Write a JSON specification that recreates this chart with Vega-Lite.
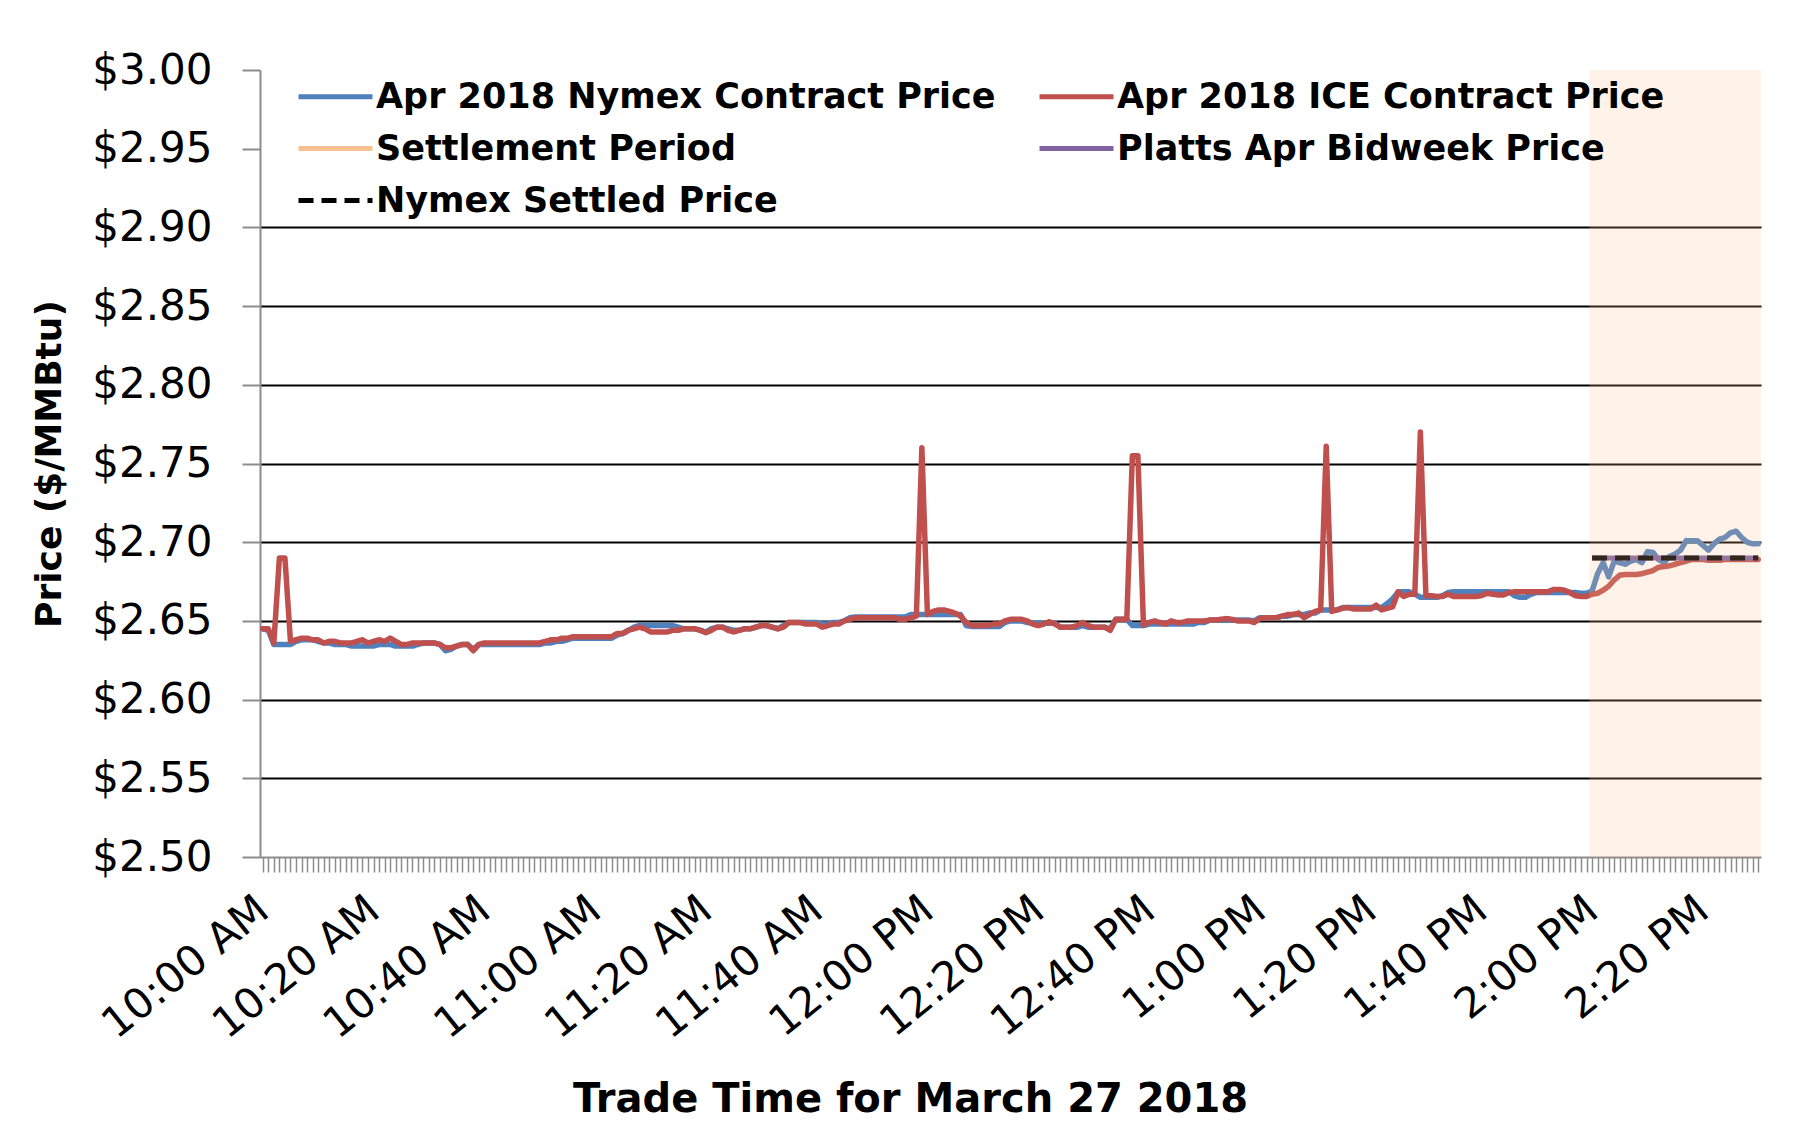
{
"$schema":"https://vega.github.io/schema/vega-lite/v6.json",
"width":1501,"height":787,
"autosize":{"type":"none"},
"padding":{"left":260,"top":70,"right":53,"bottom":290},
"background":"white",
"config":{"font":"DejaVu Sans","view":{"stroke":null},"axis":{"labelFont":"DejaVu Sans","titleFont":"DejaVu Sans"},"legend":{"labelFont":"DejaVu Sans"}},
"layer":[
{
"data":{"values":[
{"t":"10:00","N":2.645,"I":2.645},{"t":"10:01","N":2.644,"I":2.645},{"t":"10:02","N":2.635,"I":2.636},{"t":"10:03","N":2.635,"I":2.69},{"t":"10:04","N":2.635,"I":2.69},
{"t":"10:05","N":2.635,"I":2.637},{"t":"10:06","N":2.637,"I":2.638},{"t":"10:07","N":2.638,"I":2.639},{"t":"10:08","N":2.638,"I":2.639},{"t":"10:09","N":2.638,"I":2.638},
{"t":"10:10","N":2.637,"I":2.638},{"t":"10:11","N":2.636,"I":2.636},{"t":"10:12","N":2.636,"I":2.637},{"t":"10:13","N":2.635,"I":2.637},{"t":"10:14","N":2.635,"I":2.636},
{"t":"10:15","N":2.635,"I":2.636},{"t":"10:16","N":2.634,"I":2.636},{"t":"10:17","N":2.634,"I":2.637},{"t":"10:18","N":2.634,"I":2.638},{"t":"10:19","N":2.634,"I":2.636},
{"t":"10:20","N":2.634,"I":2.637},{"t":"10:21","N":2.635,"I":2.638},{"t":"10:22","N":2.635,"I":2.637},{"t":"10:23","N":2.635,"I":2.639},{"t":"10:24","N":2.634,"I":2.637},
{"t":"10:25","N":2.634,"I":2.635},{"t":"10:26","N":2.634,"I":2.635},{"t":"10:27","N":2.634,"I":2.636},{"t":"10:28","N":2.635,"I":2.636},{"t":"10:29","N":2.636,"I":2.636},
{"t":"10:30","N":2.636,"I":2.636},{"t":"10:31","N":2.636,"I":2.636},{"t":"10:32","N":2.635,"I":2.635},{"t":"10:33","N":2.631,"I":2.633},{"t":"10:34","N":2.632,"I":2.633},
{"t":"10:35","N":2.634,"I":2.634},{"t":"10:36","N":2.635,"I":2.635},{"t":"10:37","N":2.635,"I":2.635},{"t":"10:38","N":2.632,"I":2.631},{"t":"10:39","N":2.635,"I":2.635},
{"t":"10:40","N":2.635,"I":2.636},{"t":"10:41","N":2.635,"I":2.636},{"t":"10:42","N":2.635,"I":2.636},{"t":"10:43","N":2.635,"I":2.636},{"t":"10:44","N":2.635,"I":2.636},
{"t":"10:45","N":2.635,"I":2.636},{"t":"10:46","N":2.635,"I":2.636},{"t":"10:47","N":2.635,"I":2.636},{"t":"10:48","N":2.635,"I":2.636},{"t":"10:49","N":2.635,"I":2.636},
{"t":"10:50","N":2.635,"I":2.636},{"t":"10:51","N":2.636,"I":2.637},{"t":"10:52","N":2.636,"I":2.638},{"t":"10:53","N":2.637,"I":2.638},{"t":"10:54","N":2.637,"I":2.639},
{"t":"10:55","N":2.638,"I":2.639},{"t":"10:56","N":2.639,"I":2.64},{"t":"10:57","N":2.639,"I":2.64},{"t":"10:58","N":2.639,"I":2.64},{"t":"10:59","N":2.639,"I":2.64},
{"t":"11:00","N":2.639,"I":2.64},{"t":"11:01","N":2.639,"I":2.64},{"t":"11:02","N":2.639,"I":2.64},{"t":"11:03","N":2.639,"I":2.64},{"t":"11:04","N":2.641,"I":2.642},
{"t":"11:05","N":2.642,"I":2.642},{"t":"11:06","N":2.644,"I":2.644},{"t":"11:07","N":2.646,"I":2.645},{"t":"11:08","N":2.647,"I":2.646},{"t":"11:09","N":2.647,"I":2.645},
{"t":"11:10","N":2.647,"I":2.643},{"t":"11:11","N":2.647,"I":2.643},{"t":"11:12","N":2.647,"I":2.643},{"t":"11:13","N":2.647,"I":2.643},{"t":"11:14","N":2.647,"I":2.644},
{"t":"11:15","N":2.646,"I":2.644},{"t":"11:16","N":2.645,"I":2.645},{"t":"11:17","N":2.645,"I":2.645},{"t":"11:18","N":2.645,"I":2.645},{"t":"11:19","N":2.644,"I":2.644},
{"t":"11:20","N":2.643,"I":2.6425},{"t":"11:21","N":2.645,"I":2.644},{"t":"11:22","N":2.646,"I":2.646},{"t":"11:23","N":2.646,"I":2.646},{"t":"11:24","N":2.645,"I":2.644},
{"t":"11:25","N":2.644,"I":2.643},{"t":"11:26","N":2.644,"I":2.644},{"t":"11:27","N":2.645,"I":2.645},{"t":"11:28","N":2.645,"I":2.645},{"t":"11:29","N":2.646,"I":2.646},
{"t":"11:30","N":2.647,"I":2.647},{"t":"11:31","N":2.647,"I":2.647},{"t":"11:32","N":2.646,"I":2.646},{"t":"11:33","N":2.645,"I":2.645},{"t":"11:34","N":2.647,"I":2.646},
{"t":"11:35","N":2.649,"I":2.649},{"t":"11:36","N":2.649,"I":2.649},{"t":"11:37","N":2.649,"I":2.649},{"t":"11:38","N":2.649,"I":2.648},{"t":"11:39","N":2.649,"I":2.648},
{"t":"11:40","N":2.649,"I":2.648},{"t":"11:41","N":2.648,"I":2.646},{"t":"11:42","N":2.648,"I":2.647},{"t":"11:43","N":2.649,"I":2.648},{"t":"11:44","N":2.649,"I":2.648},
{"t":"11:45","N":2.65,"I":2.65},{"t":"11:46","N":2.652,"I":2.651},{"t":"11:47","N":2.6525,"I":2.652},{"t":"11:48","N":2.6525,"I":2.652},{"t":"11:49","N":2.6525,"I":2.652},
{"t":"11:50","N":2.6525,"I":2.652},{"t":"11:51","N":2.6525,"I":2.652},{"t":"11:52","N":2.6525,"I":2.652},{"t":"11:53","N":2.6525,"I":2.652},{"t":"11:54","N":2.6525,"I":2.652},
{"t":"11:55","N":2.6525,"I":2.651},{"t":"11:56","N":2.6525,"I":2.651},{"t":"11:57","N":2.654,"I":2.652},{"t":"11:58","N":2.654,"I":2.653},{"t":"11:59","N":2.654,"I":2.76},
{"t":"12:00","N":2.654,"I":2.654},{"t":"12:01","N":2.654,"I":2.656},{"t":"12:02","N":2.654,"I":2.657},{"t":"12:03","N":2.654,"I":2.657},{"t":"12:04","N":2.654,"I":2.656},
{"t":"12:05","N":2.654,"I":2.655},{"t":"12:06","N":2.654,"I":2.653},{"t":"12:07","N":2.647,"I":2.649},{"t":"12:08","N":2.6465,"I":2.647},{"t":"12:09","N":2.6465,"I":2.647},
{"t":"12:10","N":2.6465,"I":2.647},{"t":"12:11","N":2.6465,"I":2.647},{"t":"12:12","N":2.6465,"I":2.648},{"t":"12:13","N":2.6465,"I":2.648},{"t":"12:14","N":2.649,"I":2.65},
{"t":"12:15","N":2.65,"I":2.651},{"t":"12:16","N":2.65,"I":2.651},{"t":"12:17","N":2.65,"I":2.651},{"t":"12:18","N":2.649,"I":2.65},{"t":"12:19","N":2.6485,"I":2.648},
{"t":"12:20","N":2.6485,"I":2.647},{"t":"12:21","N":2.6485,"I":2.648},{"t":"12:22","N":2.6485,"I":2.6495},{"t":"12:23","N":2.6485,"I":2.648},{"t":"12:24","N":2.646,"I":2.646},
{"t":"12:25","N":2.646,"I":2.646},{"t":"12:26","N":2.646,"I":2.646},{"t":"12:27","N":2.646,"I":2.647},{"t":"12:28","N":2.647,"I":2.649},{"t":"12:29","N":2.646,"I":2.647},
{"t":"12:30","N":2.646,"I":2.646},{"t":"12:31","N":2.646,"I":2.646},{"t":"12:32","N":2.646,"I":2.646},{"t":"12:33","N":2.645,"I":2.644},{"t":"12:34","N":2.651,"I":2.651},
{"t":"12:35","N":2.651,"I":2.651},{"t":"12:36","N":2.651,"I":2.651},{"t":"12:37","N":2.647,"I":2.755},{"t":"12:38","N":2.647,"I":2.755},{"t":"12:39","N":2.647,"I":2.6475},
{"t":"12:40","N":2.648,"I":2.649},{"t":"12:41","N":2.648,"I":2.65},{"t":"12:42","N":2.648,"I":2.649},{"t":"12:43","N":2.648,"I":2.648},{"t":"12:44","N":2.648,"I":2.65},
{"t":"12:45","N":2.648,"I":2.649},{"t":"12:46","N":2.648,"I":2.649},{"t":"12:47","N":2.648,"I":2.65},{"t":"12:48","N":2.648,"I":2.65},{"t":"12:49","N":2.649,"I":2.65},
{"t":"12:50","N":2.649,"I":2.65},{"t":"12:51","N":2.6505,"I":2.6505},{"t":"12:52","N":2.6505,"I":2.6505},{"t":"12:53","N":2.6505,"I":2.651},{"t":"12:54","N":2.6505,"I":2.6515},
{"t":"12:55","N":2.6505,"I":2.651},{"t":"12:56","N":2.6505,"I":2.65},{"t":"12:57","N":2.6505,"I":2.65},{"t":"12:58","N":2.6505,"I":2.65},{"t":"12:59","N":2.65,"I":2.649},
{"t":"13:00","N":2.652,"I":2.6515},{"t":"13:01","N":2.652,"I":2.652},{"t":"13:02","N":2.652,"I":2.652},{"t":"13:03","N":2.652,"I":2.652},{"t":"13:04","N":2.653,"I":2.653},
{"t":"13:05","N":2.653,"I":2.654},{"t":"13:06","N":2.654,"I":2.654},{"t":"13:07","N":2.654,"I":2.655},{"t":"13:08","N":2.654,"I":2.652},{"t":"13:09","N":2.655,"I":2.654},
{"t":"13:10","N":2.655,"I":2.656},{"t":"13:11","N":2.657,"I":2.657},{"t":"13:12","N":2.657,"I":2.761},{"t":"13:13","N":2.657,"I":2.656},{"t":"13:14","N":2.657,"I":2.657},
{"t":"13:15","N":2.6585,"I":2.658},{"t":"13:16","N":2.6585,"I":2.6585},{"t":"13:17","N":2.6585,"I":2.6575},{"t":"13:18","N":2.6585,"I":2.6575},{"t":"13:19","N":2.6585,"I":2.6575},
{"t":"13:20","N":2.6585,"I":2.6575},{"t":"13:21","N":2.6585,"I":2.66},{"t":"13:22","N":2.6585,"I":2.657},{"t":"13:23","N":2.661,"I":2.658},{"t":"13:24","N":2.664,"I":2.659},
{"t":"13:25","N":2.6685,"I":2.6685},{"t":"13:26","N":2.6685,"I":2.6655},{"t":"13:27","N":2.6685,"I":2.667},{"t":"13:28","N":2.667,"I":2.667},{"t":"13:29","N":2.665,"I":2.77},
{"t":"13:30","N":2.665,"I":2.666},{"t":"13:31","N":2.665,"I":2.666},{"t":"13:32","N":2.665,"I":2.6655},{"t":"13:33","N":2.666,"I":2.6655},{"t":"13:34","N":2.668,"I":2.667},
{"t":"13:35","N":2.6685,"I":2.6655},{"t":"13:36","N":2.6685,"I":2.6655},{"t":"13:37","N":2.6685,"I":2.6655},{"t":"13:38","N":2.6685,"I":2.6655},{"t":"13:39","N":2.6685,"I":2.6655},
{"t":"13:40","N":2.6685,"I":2.666},{"t":"13:41","N":2.6685,"I":2.6675},{"t":"13:42","N":2.6685,"I":2.667},{"t":"13:43","N":2.6685,"I":2.6665},{"t":"13:44","N":2.6685,"I":2.6665},
{"t":"13:45","N":2.6685,"I":2.668},{"t":"13:46","N":2.666,"I":2.6685},{"t":"13:47","N":2.665,"I":2.6685},{"t":"13:48","N":2.665,"I":2.6685},{"t":"13:49","N":2.667,"I":2.6685},
{"t":"13:50","N":2.668,"I":2.6685},{"t":"13:51","N":2.668,"I":2.6685},{"t":"13:52","N":2.668,"I":2.6685},{"t":"13:53","N":2.668,"I":2.67},{"t":"13:54","N":2.668,"I":2.67},
{"t":"13:55","N":2.668,"I":2.6695},{"t":"13:56","N":2.668,"I":2.668},{"t":"13:57","N":2.668,"I":2.666},{"t":"13:58","N":2.6675,"I":2.6655},{"t":"13:59","N":2.6675,"I":2.6655},
{"t":"14:00","N":2.669,"I":2.667},{"t":"14:01","N":2.68,"I":2.6675},{"t":"14:02","N":2.687,"I":2.6695},{"t":"14:03","N":2.678,"I":2.672},{"t":"14:04","N":2.688,"I":2.676},
{"t":"14:05","N":2.687,"I":2.679},{"t":"14:06","N":2.686,"I":2.6795},{"t":"14:07","N":2.688,"I":2.6795},{"t":"14:08","N":2.689,"I":2.6795},{"t":"14:09","N":2.687,"I":2.68},
{"t":"14:10","N":2.694,"I":2.681},{"t":"14:11","N":2.6935,"I":2.682},{"t":"14:12","N":2.689,"I":2.684},{"t":"14:13","N":2.687,"I":2.6845},{"t":"14:14","N":2.691,"I":2.685},
{"t":"14:15","N":2.6925,"I":2.686},{"t":"14:16","N":2.695,"I":2.687},{"t":"14:17","N":2.701,"I":2.688},{"t":"14:18","N":2.701,"I":2.689},{"t":"14:19","N":2.701,"I":2.689},
{"t":"14:20","N":2.698,"I":2.689},{"t":"14:21","N":2.695,"I":2.6885},{"t":"14:22","N":2.699,"I":2.6885},{"t":"14:23","N":2.702,"I":2.6885},{"t":"14:24","N":2.703,"I":2.689},
{"t":"14:25","N":2.706,"I":2.689},{"t":"14:26","N":2.707,"I":2.689},{"t":"14:27","N":2.703,"I":2.689},{"t":"14:28","N":2.7,"I":2.689},{"t":"14:29","N":2.699,"I":2.689},
{"t":"14:30","N":2.699,"I":2.689}
],"format":{"parse":{"t":"date:'%H:%M'"}}},
"transform":[{"fold":["N","I"],"as":["s","v"]}],
"mark":{"type":"line","strokeWidth":5.5,"strokeJoin":"round","strokeCap":"round"},
"encoding":{
"x":{"field":"t","type":"temporal",
"scale":{"domain":[{"year":1900,"month":1,"date":1,"hours":9,"minutes":59,"seconds":30},{"year":1900,"month":1,"date":1,"hours":14,"minutes":30,"seconds":30}]},
"axis":{"title":"Trade Time for March 27 2018","titleFontSize":40,"titleFontWeight":"bold","titleColor":"black","titleX":650,"titleY":254,"titleAlign":"center","titleBaseline":"alphabetic",
"tickCount":271,
"labelExpr":"minutes(datum.value) % 20 == 0 ? timeFormat(datum.value, '%-I:%M %p') : ''",
"labelAngle":-39,"labelAlign":"right","labelBaseline":"middle","labelFontSize":42,"labelColor":"black","labelPadding":32,"labelOverlap":false,"labelFlush":false,"labelBound":false,"labelLimit":1000,
"tickSize":15,"tickColor":"#8c8c8c","tickWidth":1.5,"domainColor":"#8c8c8c","domainWidth":2,"grid":false}},
"y":{"field":"v","type":"quantitative",
"scale":{"domain":[2.5,3.0],"nice":false,"zero":false},
"axis":{"title":"Price ($/MMBtu)","titleFontSize":36,"titleFontWeight":"bold","titleColor":"black","titleX":-200,"titleBaseline":"alphabetic",
"values":[2.5,2.55,2.6,2.65,2.7,2.75,2.8,2.85,2.9,2.95,3.0],"format":"$.2f",
"labelFontSize":42,"labelColor":"black","labelPadding":30,
"tickSize":18,"tickColor":"#8c8c8c","tickWidth":2,"domainColor":"#8c8c8c","domainWidth":2,
"grid":true,"gridColor":"#000000","gridWidth":2,
"gridOpacity":{"condition":{"test":"datum.value > 2.92 || datum.value < 2.52","value":0},"value":1}}},
"color":{"field":"s","type":"nominal",
"scale":{"domain":["N","I","S","P","X"],"range":["#4F81BD","#C0504D","#FAC090","#8064A2","#000000"]},
"legend":{"title":null,"orient":"none","direction":"horizontal","legendX":31,"legendY":9,"columns":2,"symbolType":"M-1,0H6.4","symbolSize":400,"symbolStrokeWidth":5,
"labelFontSize":35,"labelFontWeight":"bold","labelColor":"black","labelLimit":1000,"labelOffset":50,"columnPadding":33,"rowPadding":16,"padding":0,
"labelExpr":"datum.label == 'N' ? 'Apr 2018 Nymex Contract Price' : datum.label == 'I' ? 'Apr 2018 ICE Contract Price' : datum.label == 'S' ? 'Settlement Period' : datum.label == 'P' ? 'Platts Apr Bidweek Price' : 'Nymex Settled Price'"}},
"strokeDash":{"field":"s","type":"nominal",
"scale":{"domain":["N","I","S","P","X"],"range":[[1,0],[1,0],[1,0],[1,0],[15,8]]},
"legend":{"title":null,"orient":"none","direction":"horizontal","legendX":31,"legendY":9,"columns":2,"symbolType":"M-1,0H6.4","symbolSize":400,"symbolStrokeWidth":5,
"labelFontSize":35,"labelFontWeight":"bold","labelColor":"black","labelLimit":1000,"labelOffset":50,"columnPadding":33,"rowPadding":16,"padding":0,
"labelExpr":"datum.label == 'N' ? 'Apr 2018 Nymex Contract Price' : datum.label == 'I' ? 'Apr 2018 ICE Contract Price' : datum.label == 'S' ? 'Settlement Period' : datum.label == 'P' ? 'Platts Apr Bidweek Price' : 'Nymex Settled Price'"}}
}
},
{
"data":{"values":[
{"t":"14:00","s":"P","v":2.69},{"t":"14:30","s":"P","v":2.69},
{"t":"14:00","s":"X","v":2.69},{"t":"14:30","s":"X","v":2.69}
],"format":{"parse":{"t":"date:'%H:%M'"}}},
"mark":{"type":"line","strokeWidth":5,"strokeCap":"butt"},
"encoding":{
"x":{"field":"t","type":"temporal"},
"y":{"field":"v","type":"quantitative"},
"color":{"field":"s","type":"nominal"},
"strokeDash":{"field":"s","type":"nominal"}
}
},
{
"data":{"values":[{"a":"13:59:30","b":"14:30:30","lo":2.5,"hi":3.0}],"format":{"parse":{"a":"date:'%H:%M:%S'","b":"date:'%H:%M:%S'"}}},
"mark":{"type":"rect","fill":"#FAC090","opacity":0.2},
"encoding":{
"x":{"field":"a","type":"temporal"},
"x2":{"field":"b"},
"y":{"field":"lo","type":"quantitative"},
"y2":{"field":"hi"}
}
}
]
}
